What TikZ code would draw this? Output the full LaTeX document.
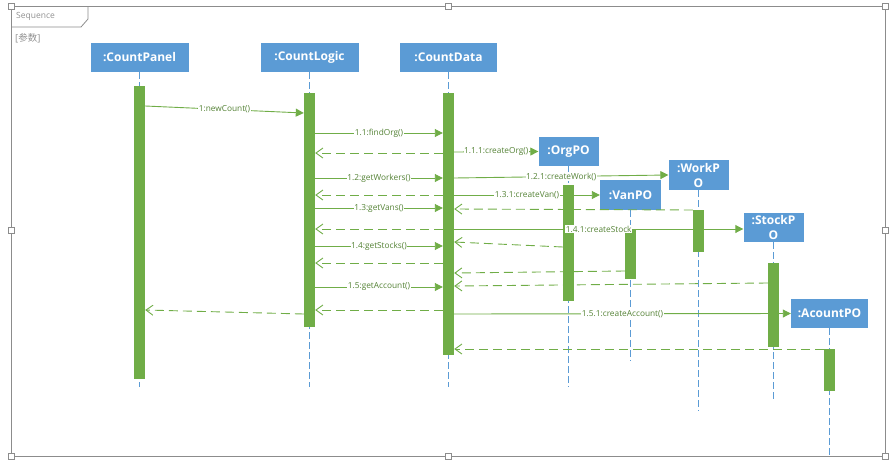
\documentclass[tikz,border=0pt]{standalone}
\usepackage{fontspec}
\setmainfont{Open Sans}
\newfontfamily\cjkfont{Noto Sans CJK SC}
\usetikzlibrary{arrows.meta,calc}
\definecolor{actgreen}{HTML}{70AD47}
\definecolor{txtgreen}{HTML}{548235}
\definecolor{lifeblue}{HTML}{5B9BD5}
\definecolor{framegray}{HTML}{8C8C8C}
\definecolor{captiongray}{HTML}{909090}

\begin{document}
\begin{tikzpicture}[x=1pt,y=-1pt,
  participant/.style={fill=lifeblue, text=white, font=\bfseries\fontsize{12}{15}\selectfont,
    minimum height=29pt, inner sep=0pt, align=center},
  activation/.style={fill=actgreen, minimum width=11pt, inner sep=0pt},
  lifeline/.style={draw=lifeblue, dash pattern=on 7pt off 3pt, line width=0.8pt},
  call/.style={draw=actgreen, line width=0.9pt, -{Triangle[length=8pt,width=8pt]}},
  reply/.style={draw=actgreen, line width=0.9pt, dash pattern=on 9pt off 5pt,
    -{Straight Barb[length=7pt,width=10pt]}},
  msg/.style={fill=white, text=txtgreen, font=\fontsize{8.3}{10}\selectfont, inner sep=0.6pt},
  handle/.style={draw=framegray, fill=white, minimum size=6pt, inner sep=0pt, line width=0.7pt},
  caption/.style={text=captiongray, font=\fontsize{8.5}{10}\selectfont, inner sep=0pt, anchor=west}
]
\useasboundingbox (0,0) rectangle (892,461);

% ---- sequence frame with its name tab
\draw[framegray, line width=0.8pt] (11,6) rectangle (885,456);
\draw[framegray, line width=0.8pt] (11,27) -- (81,27) -- (88,19) -- (88,6);
\node[caption] (framename) at (16,16) {Sequence};
\node[caption, font=\fontsize{9.5}{11}\selectfont] (frameparam) at (15,38) {[{\cjkfont 参数}]};
\foreach \hx/\hy/\hn in {11/6/h1, 448/6/h2, 885/6/h3, 11/230/h4, 885/230/h5,
                         11/456/h6, 448/456/h7, 885/456/h8}
  \node[handle] (\hn) at (\hx,\hy) {};

% ---- participants
\node[participant, minimum width=98pt] (panel) at (139.5,57.5) {:CountPanel};
\node[participant, minimum width=98pt] (logic) at (309.5,57.5) {:CountLogic};
\node[participant, minimum width=97pt] (data)  at (448.5,57.5) {:CountData};
\node[participant, minimum width=60pt] (org)   at (568.5,151.5) {:OrgPO};
\node[participant, minimum width=60pt, minimum height=30pt] (work) at (698.5,175) {:WorkP\\O};
\node[participant, minimum width=61pt, minimum height=30pt] (van)  at (630.5,195) {:VanPO};
\node[participant, minimum width=60pt] (stock) at (773.5,227.5) {:StockP\\O};
\node[participant, minimum width=77pt] (acct)  at (829.5,313.5) {:AcountPO};

% ---- lifelines
\coordinate (panelend) at (139.5,387);
\coordinate (logicend) at (309.5,387);
\coordinate (dataend)  at (448.5,387);
\coordinate (orgend)   at (568.5,387);
\coordinate (workend)  at (698.5,411);
\coordinate (vanend)   at (630.5,361);
\coordinate (stockend) at (773.5,399);
\coordinate (acctend)  at (829.5,456);
\foreach \p in {panel,logic,data,org,work,van,stock,acct}
  \draw[lifeline] (\p.south) -- (\p end);

% ---- activation bars
\node[activation, minimum height=293pt] (pbar) at (139.5,232.5) {};
\node[activation, minimum height=234pt] (lbar) at (309.5,210) {};
\node[activation, minimum height=262pt] (dbar) at (448.5,224) {};
\node[activation, minimum height=116pt] (obar) at (568.5,243) {};
\node[activation, minimum height=42pt]  (wbar) at (698.5,231) {};
\node[activation, minimum height=50pt]  (vbar) at (630.5,254) {};
\node[activation, minimum height=84pt]  (sbar) at (773.5,305) {};
\node[activation, minimum height=42pt]  (abar) at (829.5,370) {};

% ---- calls
\draw[call] (pbar.east |- 0,106) -- node[msg] {1:newCount()} (lbar.west |- 0,113);
\draw[call] (lbar.east |- 0,133) -- node[msg] {1.1:findOrg()} (dbar.west |- 0,133);
\draw[call] (dbar.east |- 0,152) -- node[msg] {1.1.1:createOrg()} (org.west);
\draw[call] (lbar.east |- 0,178) -- node[msg] {1.2:getWorkers()} (dbar.west |- 0,178);
\draw[call] (dbar.east |- 0,178) -- node[msg] {1.2.1:createWork()} (work.west);
\draw[call] (dbar.east |- 0,195) -- node[msg] {1.3.1:createVan()} (van.west);
\draw[call] (lbar.east |- 0,208) -- node[msg] {1.3:getVans()} (dbar.west |- 0,208);
\draw[call] (dbar.east |- 0,229) -- node[msg] {1.4.1:createStock} (stock.west |- 0,229);
\draw[call] (lbar.east |- 0,246) -- node[msg] {1.4:getStocks()} (dbar.west |- 0,246);
\draw[call] (lbar.east |- 0,287) -- node[msg] {1.5:getAccount()} (dbar.west |- 0,287);
\draw[call] (dbar.east |- 0,314) -- node[msg] {1.5.1:createAccount()} (acct.west);

% ---- replies
\draw[reply] (dbar.west |- 0,153) -- (lbar.east |- 0,153);
\draw[reply] (dbar.west |- 0,195) -- (lbar.east |- 0,195);
\draw[reply] (wbar.west |- 0,210) -- (dbar.east |- 0,209);
\draw[reply] (dbar.west |- 0,229) -- (lbar.east |- 0,229);
\draw[reply] (obar.west |- 0,247) -- (dbar.east |- 0,242);
\draw[reply] (dbar.west |- 0,263) -- (lbar.east |- 0,263);
\draw[reply] (vbar.west |- 0,271) -- (dbar.east |- 0,273);
\draw[reply] (sbar.west |- 0,283) -- (dbar.east |- 0,286);
\draw[reply] (dbar.west |- 0,310) -- (lbar.east |- 0,310);
\draw[reply] (lbar.west |- 0,314) -- (pbar.east |- 0,310);
\draw[reply] (abar.west |- 0,349) -- (dbar.east |- 0,349);
\end{tikzpicture}
\end{document}
